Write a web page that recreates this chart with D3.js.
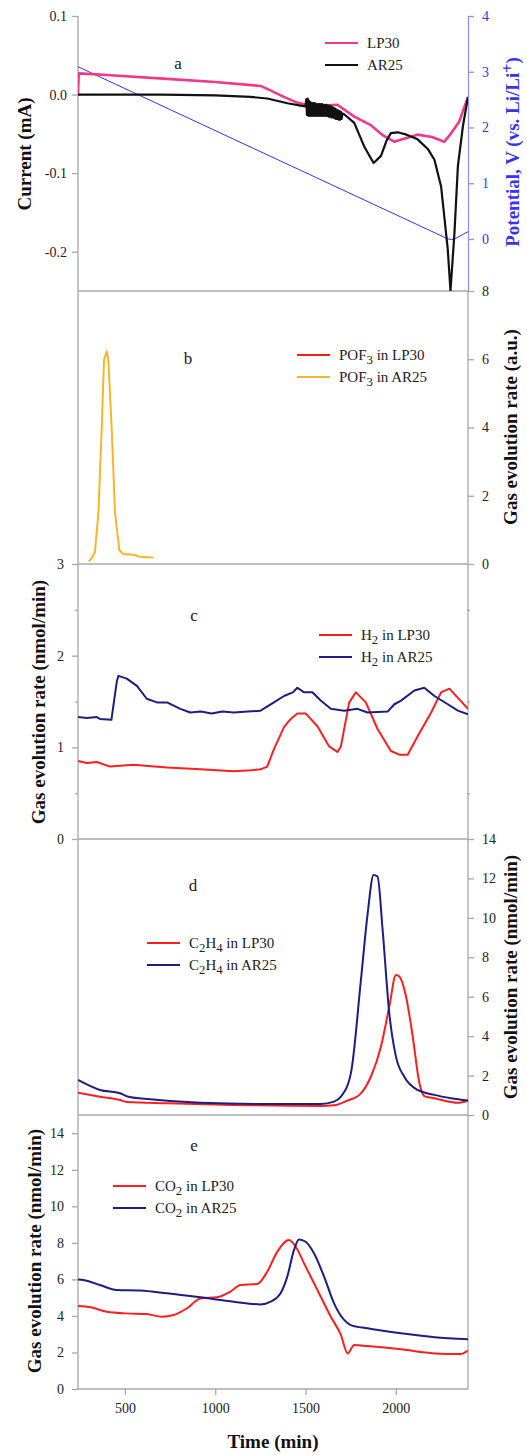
<!DOCTYPE html>
<html>
<head>
<meta charset="utf-8">
<script src="https://cdn.jsdelivr.net/npm/d3@7"></script>
<style>
  body { margin: 0; background: #fff; }
  svg { font-family: "Liberation Serif", "Times New Roman", serif; }
</style>
</head>
<body>
<script>
// ---- data (time in min) ----
const timeTicks = [500, 1000, 1500, 2000];

// panel a: current (mA) and potential (V)
const lp30Current = [[240,0.0],[244,0.027],[400,0.025],[733,0.020],[1000,0.016],[1200,0.012],[1251,0.011],[1300,0.006],
  [1380,-0.003],[1450,-0.010],[1510,-0.013],[1600,-0.014],[1677,-0.013],[1720,-0.020],[1770,-0.028],[1862,-0.039],
  [1930,-0.052],[1991,-0.060],[2050,-0.056],[2121,-0.051],[2200,-0.054],[2269,-0.060],[2307,-0.049],[2350,-0.035],[2400,-0.003]];
const ar25Current = [[240,0.0],[700,0.0],[1000,-0.001],[1195,-0.003],[1288,-0.005],[1400,-0.011],[1473,-0.014],[1500,-0.015],
  [1504,-0.006],[1508,-0.026],[1512,-0.005],[1516,-0.027],[1520,-0.008],[1524,-0.027],[1528,-0.010],[1532,-0.027],
  [1536,-0.011],[1540,-0.027],[1544,-0.011],[1548,-0.027],[1552,-0.011],[1556,-0.027],[1560,-0.012],[1564,-0.027],
  [1568,-0.012],[1572,-0.027],[1576,-0.012],[1580,-0.027],[1584,-0.012],[1588,-0.027],[1592,-0.012],[1596,-0.027],
  [1600,-0.013],[1604,-0.027],[1608,-0.013],[1612,-0.027],[1616,-0.013],[1620,-0.027],[1624,-0.014],[1628,-0.028],
  [1632,-0.014],[1636,-0.028],[1640,-0.015],[1644,-0.029],[1648,-0.016],[1652,-0.029],[1656,-0.017],[1660,-0.030],
  [1664,-0.018],[1668,-0.031],[1672,-0.019],[1676,-0.031],[1680,-0.020],[1684,-0.032],[1688,-0.021],[1692,-0.032],
  [1696,-0.022],[1700,-0.031],[1705,-0.024],[1714,-0.025],[1770,-0.036],[1825,-0.066],[1877,-0.087],[1918,-0.078],
  [1950,-0.058],[1973,-0.049],[2010,-0.048],[2060,-0.051],[2121,-0.057],[2180,-0.070],[2214,-0.083],[2251,-0.117],
  [2288,-0.197],[2303,-0.25],[2325,-0.176],[2344,-0.091],[2372,-0.040],[2400,-0.003]];
const potential = [[240,3.09],[2290,0.0],[2320,-0.01],[2400,0.13]];
const currentTicks = [0.1, 0.0, -0.1, -0.2];
const potentialTicks = [0, 1, 2, 3, 4];

// panel b: POF3 (a.u.)
const pof3LP30 = [];
const pof3AR25 = [[300,0.08],[316,0.17],[334,0.36],[353,1.5],[371,3.93],[384,5.98],[399,6.23],[408,5.98],[427,3.93],
  [445,1.5],[469,0.41],[492,0.29],[547,0.27],[584,0.21],[658,0.19]];
const pofTicks = [0, 2, 4, 6, 8];

// panel c: H2 (nmol/min)
const h2LP30 = [[240,0.85],[290,0.83],[344,0.84],[418,0.79],[547,0.81],[733,0.78],[918,0.76],[1103,0.74],[1200,0.75],
  [1251,0.76],[1288,0.79],[1325,0.98],[1381,1.22],[1418,1.31],[1455,1.37],[1501,1.37],[1566,1.23],[1631,1.01],[1677,0.95],
  [1696,1.01],[1742,1.49],[1779,1.60],[1834,1.49],[1899,1.20],[1973,0.96],[2020,0.92],[2066,0.92],[2121,1.12],[2196,1.38],
  [2251,1.60],[2297,1.64],[2344,1.54],[2400,1.42]];
const h2AR25 = [[240,1.33],[290,1.32],[344,1.33],[362,1.31],[425,1.30],[455,1.72],[464,1.78],[510,1.75],[566,1.67],
  [621,1.53],[677,1.49],[733,1.49],[807,1.42],[862,1.38],[920,1.39],[980,1.37],[1040,1.39],[1103,1.38],[1180,1.39],
  [1251,1.40],[1325,1.49],[1381,1.56],[1430,1.60],[1455,1.65],[1492,1.60],[1538,1.60],[1584,1.51],[1640,1.42],[1714,1.40],
  [1788,1.42],[1843,1.38],[1955,1.39],[1992,1.47],[2029,1.51],[2103,1.62],[2158,1.65],[2214,1.56],[2288,1.47],[2344,1.40],[2400,1.36]];
const h2Ticks = [0, 1, 2, 3];
const h2Minor = [0.5, 1.5, 2.5];

// panel d: C2H4 (nmol/min)
const c2h4LP30 = [[240,1.13],[362,0.93],[473,0.76],[510,0.66],[733,0.59],[1103,0.51],[1584,0.46],[1658,0.49],[1733,0.73],
  [1807,1.1],[1862,1.94],[1918,3.47],[1964,5.5],[2001,7.1],[2020,7.02],[2057,6.0],[2094,3.97],[2131,1.61],[2158,0.96],
  [2214,0.85],[2344,0.62],[2400,0.73]];
const c2h4AR25 = [[240,1.78],[362,1.27],[473,1.1],[519,0.93],[640,0.80],[918,0.62],[1288,0.56],[1584,0.56],[1658,0.68],
  [1696,0.93],[1751,2.1],[1807,6.85],[1844,10.2],[1877,12.18],[1899,12.1],[1927,9.4],[1964,5.16],[2001,2.96],[2047,1.94],
  [2121,1.27],[2214,1.02],[2307,0.85],[2400,0.73]];
const c2h4Ticks = [0, 2, 4, 6, 8, 10, 12, 14];

// panel e: CO2 (nmol/min)
const co2LP30 = [[240,4.54],[310,4.47],[399,4.23],[510,4.14],[621,4.1],[705,3.96],[770,4.05],[844,4.42],[918,4.96],
  [1010,5.02],[1084,5.33],[1140,5.69],[1233,5.75],[1288,6.42],[1344,7.52],[1408,8.16],[1446,7.79],[1492,6.88],[1566,5.42],
  [1640,3.96],[1696,2.96],[1733,1.95],[1770,2.41],[1843,2.35],[2029,2.17],[2214,1.95],[2362,1.92],[2400,2.1]];
const co2AR25 = [[240,6.0],[270,5.97],[362,5.69],[455,5.42],[584,5.39],[733,5.24],[918,5.02],[1103,4.78],[1251,4.63],
  [1307,4.78],[1362,5.24],[1399,6.15],[1436,7.6],[1464,8.19],[1501,8.06],[1547,7.43],[1603,6.15],[1658,4.69],[1714,3.78],
  [1751,3.5],[1843,3.32],[2029,3.05],[2214,2.83],[2400,2.72]];
const co2Ticks = [0, 2, 4, 6, 8, 10, 12, 14];

// ---- layout ----
const L = 78, R = 468;
const frame = '#a8a8a8';
const col = { pink: '#f0388c', black: '#111', blue: '#3535f0', red: '#ff1f1f', navy: '#1d1d82', orange: '#f7b52c' };

const svg = d3.select('body').append('svg').attr('width', 527).attr('height', 1455);

const x = d3.scaleLinear().domain([240, 2400]).range([L, R]);

const yCur = d3.scaleLinear().domain([-0.25, 0.1]).range([291, 16]);
const yPot = d3.scaleLinear().domain([-0.933, 4]).range([291, 16]);
const yPof = d3.scaleLinear().domain([0, 8]).range([564, 291]);
const yH2 = d3.scaleLinear().domain([0, 3]).range([839, 564]);
const yC2 = d3.scaleLinear().domain([0, 14]).range([1115, 839]);
const yCo2 = d3.scaleLinear().domain([0, 15]).range([1389, 1115]);

// clip per panel
const defs = svg.append('defs');
[['ca', 16, 291], ['cb', 291, 564], ['cc', 564, 839], ['cd', 839, 1115], ['ce', 1115, 1389]].forEach(([id, t, b]) => {
  defs.append('clipPath').attr('id', id).append('rect').attr('x', L).attr('y', t).attr('width', R - L).attr('height', b - t);
});

function styleAxis(g, lineColor, textColor) {
  g.attr('font-family', '"Liberation Serif", serif');
  g.select('.domain').attr('stroke', lineColor).attr('stroke-width', 1.3);
  g.selectAll('.tick line').attr('stroke', lineColor).attr('stroke-width', 1.3);
  g.selectAll('.tick text').attr('fill', textColor).attr('font-size', 14);
}

function addAxis(axis, tx, lineColor, textColor) {
  const g = svg.append('g').attr('transform', `translate(${tx},0)`).call(axis);
  styleAxis(g, lineColor, textColor);
  return g;
}

function vline(xp, t, b, c) {
  svg.append('line').attr('x1', xp).attr('x2', xp).attr('y1', t).attr('y2', b).attr('stroke', c).attr('stroke-width', 1.3);
}
function hline(yp) {
  svg.append('line').attr('x1', L).attr('x2', R).attr('y1', yp).attr('y2', yp).attr('stroke', frame).attr('stroke-width', 1.5);
}

function drawSeries(data, y, color, w, clip, curve) {
  if (!data.length) return;
  svg.append('path').datum(data)
    .attr('clip-path', `url(#${clip})`)
    .attr('fill', 'none').attr('stroke', color).attr('stroke-width', w)
    .attr('stroke-linejoin', 'round')
    .attr('d', d3.line().x(d => x(d[0])).y(d => y(d[1])).curve(curve || d3.curveLinear));
}

// text with sub/superscripts: parts = strings or {t, sub} / {t, sup}
function richText(sel, parts) {
  parts.forEach(p => {
    if (typeof p === 'string') sel.append('tspan').text(p);
    else sel.append('tspan').attr('baseline-shift', p.sub ? '-28%' : '38%').attr('font-size', '85%').text(p.t);
  });
  return sel;
}

function legend(lx, ly, items) {
  items.forEach((it, i) => {
    const yy = ly + i * 22;
    svg.append('line').attr('x1', lx).attr('x2', lx + 33).attr('y1', yy).attr('y2', yy)
      .attr('stroke', it.color).attr('stroke-width', 2.2);
    richText(svg.append('text').attr('x', lx + 42).attr('y', yy + 5).attr('font-size', 15).attr('fill', '#222'), it.label);
  });
}

function letter(lx, ly, s) {
  svg.append('text').attr('x', lx).attr('y', ly).attr('font-size', 17).attr('text-anchor', 'middle').attr('fill', '#222').text(s);
}

function vTitle(cx, cy, parts, color) {
  const t = svg.append('text').attr('transform', `translate(${cx},${cy}) rotate(-90)`)
    .attr('text-anchor', 'middle').attr('font-size', 19).attr('font-weight', 'bold').attr('fill', color || '#111');
  richText(t, parts);
}

// ---- frame lines ----
vline(L, 16, 1389, frame);
vline(R, 291, 1389, frame);
[291, 564, 839, 1115, 1389].forEach(hline);

// ---- axes ----
addAxis(d3.axisLeft(yCur).tickValues(currentTicks).tickFormat(d => d.toFixed(1)).tickSize(6).tickSizeOuter(0).tickPadding(5), L, frame, '#222')
  .select('.domain').remove();
addAxis(d3.axisRight(yPot).tickValues(potentialTicks).tickFormat(d3.format('d')).tickSize(6).tickSizeOuter(0).tickPadding(8), R, '#8f8ff0', col.blue);
addAxis(d3.axisRight(yPof).tickValues(pofTicks).tickFormat(d3.format('d')).tickSize(6).tickSizeOuter(0).tickPadding(8), R, frame, '#222')
  .select('.domain').remove();
addAxis(d3.axisLeft(yH2).tickValues(h2Ticks).tickFormat(d3.format('d')).tickSize(6).tickSizeOuter(0).tickPadding(8), L, frame, '#222')
  .select('.domain').remove();
addAxis(d3.axisLeft(yH2).tickValues(h2Minor).tickFormat('').tickSize(3).tickSizeOuter(0), L, frame, '#222').select('.domain').remove();
addAxis(d3.axisLeft(yH2).tickValues(h2Minor).tickFormat('').tickSize(3).tickSizeOuter(0), R + 2, frame, '#222').select('.domain').remove();
addAxis(d3.axisRight(yC2).tickValues(c2h4Ticks).tickFormat(d3.format('d')).tickSize(6).tickSizeOuter(0).tickPadding(8), R, frame, '#222')
  .select('.domain').remove();
addAxis(d3.axisLeft(yCo2).tickValues(co2Ticks).tickFormat(d3.format('d')).tickSize(6).tickSizeOuter(0).tickPadding(8), L, frame, '#222')
  .select('.domain').remove();
const xg = svg.append('g').attr('transform', 'translate(0,1389)')
  .call(d3.axisBottom(x).tickValues(timeTicks).tickFormat(d3.format('d')).tickSize(6).tickSizeOuter(0).tickPadding(8));
styleAxis(xg, frame, '#222');
xg.select('.domain').remove();

// ---- series ----
drawSeries(potential, yPot, col.blue, 1, 'ca');
drawSeries(lp30Current, yCur, col.pink, 2.6, 'ca');
drawSeries(ar25Current, yCur, col.black, 2.2, 'ca');

drawSeries(pof3LP30, yPof, col.red, 2, 'cb');
drawSeries(pof3AR25, yPof, col.orange, 2, 'cb');

drawSeries(h2LP30, yH2, col.red, 2, 'cc');
drawSeries(h2AR25, yH2, col.navy, 2, 'cc');

drawSeries(c2h4LP30, yC2, col.red, 2, 'cd', d3.curveMonotoneX);
drawSeries(c2h4AR25, yC2, col.navy, 2, 'cd', d3.curveMonotoneX);

drawSeries(co2LP30, yCo2, col.red, 2, 'ce', d3.curveMonotoneX);
drawSeries(co2AR25, yCo2, col.navy, 2, 'ce', d3.curveMonotoneX);

// ---- legends & letters ----
legend(325, 43, [{ color: col.pink, label: ['LP30'] }, { color: col.black, label: ['AR25'] }]);
legend(297, 355, [{ color: col.red, label: ['POF', { t: '3', sub: 1 }, ' in LP30'] }, { color: col.orange, label: ['POF', { t: '3', sub: 1 }, ' in AR25'] }]);
legend(319, 635, [{ color: col.red, label: ['H', { t: '2', sub: 1 }, ' in LP30'] }, { color: col.navy, label: ['H', { t: '2', sub: 1 }, ' in AR25'] }]);
legend(147, 943, [{ color: col.red, label: ['C', { t: '2', sub: 1 }, 'H', { t: '4', sub: 1 }, ' in LP30'] }, { color: col.navy, label: ['C', { t: '2', sub: 1 }, 'H', { t: '4', sub: 1 }, ' in AR25'] }]);
legend(113, 1186, [{ color: col.red, label: ['CO', { t: '2', sub: 1 }, ' in LP30'] }, { color: col.navy, label: ['CO', { t: '2', sub: 1 }, ' in AR25'] }]);

letter(178, 69, 'a');
letter(188, 364, 'b');
letter(194, 621, 'c');
letter(193, 891, 'd');
letter(194, 1151, 'e');

// ---- axis titles ----
vTitle(31, 154, ['Current (mA)']);
vTitle(519, 152, ['Potential, V (vs. Li/Li', { t: '+', sup: 1 }, ')'], col.blue);
vTitle(517, 427, ['Gas evolution rate (a.u.)']);
vTitle(45, 702, ['Gas evolution rate (nmol/min)']);
vTitle(517, 977, ['Gas evolution rate (nmol/min)']);
vTitle(41, 1251, ['Gas evolution rate (nmol/min)']);
svg.append('text').attr('x', 273).attr('y', 1448).attr('text-anchor', 'middle')
  .attr('font-size', 19).attr('font-weight', 'bold').attr('fill', '#111').text('Time (min)');
</script>
</body>
</html>
